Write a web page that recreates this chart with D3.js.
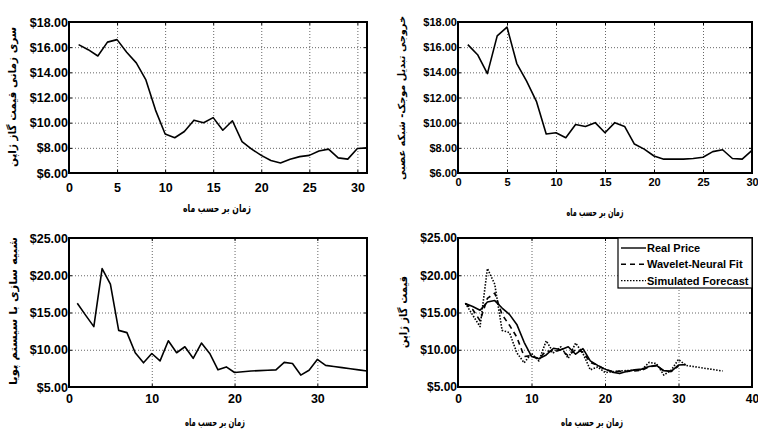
<!DOCTYPE html>
<html><head><meta charset="utf-8">
<script src="https://cdn.jsdelivr.net/npm/d3@7/dist/d3.min.js"></script>
<style>body{margin:0;background:#fff}svg{display:block}</style>
</head><body>
<svg id="chart" width="758" height="430"></svg>
<script>
// ---- data ----
const realPrice = [16.2, 15.8, 15.3, 16.4, 16.6, 15.6, 14.75, 13.4, 11.0, 9.1, 8.8, 9.3, 10.2, 10.0, 10.4, 9.4, 10.15, 8.5, 7.9, 7.4, 7.0, 6.8, 7.1, 7.3, 7.4, 7.75, 7.9, 7.2, 7.1, 7.95, 8.0];
const waveletFit = [16.2, 15.4, 13.9, 16.9, 17.6, 14.7, 13.3, 11.7, 9.1, 9.2, 8.8, 9.85, 9.7, 10.0, 9.2, 10.0, 9.7, 8.3, 7.9, 7.35, 7.1, 7.1, 7.1, 7.15, 7.25, 7.7, 7.85, 7.15, 7.1, 7.8];
const simulated = [16.25, 14.65, 13.1, 20.9, 18.8, 12.6, 12.3, 9.6, 8.25, 9.5, 8.5, 11.2, 9.6, 10.4, 8.85, 10.9, 9.5, 7.3, 7.7, 6.95, 7.05, 7.15, 7.2, 7.25, 7.3, 8.3, 8.15, 6.6, 7.25, 8.7, 7.9, 7.75, 7.6, 7.45, 7.3, 7.15];
const xTicksA = [0, 5, 10, 15, 20, 25, 30];
const xTicksB = [0, 10, 20, 30];
const xTicksC = [0, 10, 20, 30, 40];
const yTicksA = [6, 8, 10, 12, 14, 16, 18];
const yTicksB = [5, 10, 15, 20, 25];
const seriesNames = ["Real Price", "Wavelet-Neural Fit", "Simulated Forecast"];
const xLabel = "زمان بر حسب ماه";
const yLabels = ["سری زمانی قیمت گاز ژاپن", "خروجی تبدیل موجک- شبکه عصبی", "شبیه سازی با سیستم پویا", "قیمت گاز ژاپن"];

const svg = d3.select("#chart");
const fa = "'DejaVu Sans', sans-serif";
const en = "'Liberation Sans', Arial, sans-serif";

function panel(o) {
  const w = o.x1 - o.x0, h = o.y1 - o.y0;
  const g = svg.append("g").attr("transform", `translate(${o.x0},${o.y0})`);
  const x = d3.scaleLinear().domain(o.xd).range([0, w]);
  const y = d3.scaleLinear().domain(o.yd).range([h, 0]);
  // grid
  const grid = g.append("g").attr("class", "grid");
  grid.append("g").attr("transform", `translate(0,${h})`)
    .call(d3.axisBottom(x).tickValues(o.xt).tickSize(-h).tickFormat(""));
  grid.append("g").call(d3.axisLeft(y).tickValues(o.yt).tickSize(-w).tickFormat(""));
  grid.selectAll(".domain").remove();
  grid.selectAll("line").attr("stroke", "#666").attr("stroke-width", 1).attr("stroke-dasharray", "1,2");
  // lines
  o.series.forEach(s => {
    const line = d3.line().x((d, i) => x(i + 1)).y(d => y(d));
    g.append("path").datum(s.data).attr("d", line).attr("fill", "none")
      .attr("stroke", "#000").attr("stroke-width", 1.6)
      .attr("stroke-dasharray", s.dash || null).attr("stroke-linejoin", "round");
  });
  // axes
  const fs = o.fs;
  const ax = g.append("g").attr("transform", `translate(0,${h})`)
    .call(d3.axisBottom(x).tickValues(o.xt).tickSize(-3).tickPadding(o.xpad).tickFormat(d3.format("d")));
  const ay = g.append("g")
    .call(d3.axisLeft(y).tickValues(o.yt).tickSize(-3).tickPadding(1).tickFormat(d3.format("$.2f")));
  const at = g.append("g").call(d3.axisTop(x).tickValues(o.xt).tickSize(-3).tickFormat(""));
  const ar = g.append("g").attr("transform", `translate(${w},0)`)
    .call(d3.axisRight(y).tickValues(o.yt).tickSize(-3).tickFormat(""));
  [ax, ay, at, ar].forEach(a => {
    a.selectAll(".domain").remove();
    a.selectAll("line").attr("stroke", "#000");
    a.selectAll("text").attr("font-family", en).attr("font-weight", "bold")
      .attr("font-size", fs).attr("fill", "#000");
  });
  g.append("rect").attr("width", w).attr("height", h).attr("fill", "none")
    .attr("stroke", "#000").attr("stroke-width", 2);
  // labels
  svg.append("text").attr("x", o.xl[0]).attr("y", o.xl[1]).attr("text-anchor", "middle")
    .attr("dominant-baseline", "central").attr("font-family", fa).attr("font-weight", "bold")
    .attr("font-size", 11).attr("textLength", o.xl[2]).attr("lengthAdjust", "spacingAndGlyphs").text(xLabel);
  svg.append("text").attr("transform", `translate(${o.yl[0]},${o.yl[1]}) rotate(-90)`)
    .attr("text-anchor", "middle").attr("dominant-baseline", "central")
    .attr("font-family", fa).attr("font-weight", "bold").attr("font-size", o.yl[3])
    .attr("textLength", o.yl[2]).attr("lengthAdjust", "spacingAndGlyphs").text(o.ylab);
  return {g, x, y, w, h};
}

panel({x0: 69, x1: 367, y0: 22, y1: 173, xd: [0, 31], yd: [6, 18], xt: xTicksA, yt: yTicksA,
  fs: 12.5, xpad: 10, series: [{data: realPrice}], xl: [217, 208, 68], yl: [12, 97, 140, 11], ylab: yLabels[0]});
panel({x0: 458, x1: 752, y0: 22, y1: 173, xd: [0, 30], yd: [6, 18], xt: xTicksA, yt: yTicksA,
  fs: 11, xpad: 5, series: [{data: waveletFit}], xl: [595, 212, 57], yl: [401, 98, 164, 10], ylab: yLabels[1]});
panel({x0: 69, x1: 367, y0: 238, y1: 387, xd: [0, 36], yd: [5, 25], xt: xTicksB, yt: yTicksB,
  fs: 12.5, xpad: 7, series: [{data: simulated}], xl: [215, 422, 60], yl: [13, 311, 148, 11], ylab: yLabels[2]});
const p4 = panel({x0: 458, x1: 752, y0: 238, y1: 387, xd: [0, 40], yd: [5, 25], xt: xTicksC, yt: yTicksB,
  fs: 12, xpad: 7,
  series: [{data: realPrice}, {data: waveletFit, dash: "5,4"}, {data: simulated, dash: "1.5,1.5"}],
  xl: [592, 422, 62], yl: [403, 312, 72, 11], ylab: yLabels[3]});

// legend
const dashes = [null, "5,4", "1.5,1.5"];
const lg = p4.g.append("g").attr("transform", `translate(${p4.w - 134},0)`);
lg.append("rect").attr("width", 134).attr("height", 50).attr("fill", "#fff")
  .attr("stroke", "#000").attr("stroke-width", 1.2);
seriesNames.forEach((n, i) => {
  const yy = 10 + i * 16.3;
  lg.append("line").attr("x1", 3).attr("x2", 28).attr("y1", yy).attr("y2", yy)
    .attr("stroke", "#000").attr("stroke-width", 1.4).attr("stroke-dasharray", dashes[i]);
  lg.append("text").attr("x", 29).attr("y", yy).attr("dominant-baseline", "central")
    .attr("font-family", en).attr("font-weight", "bold").attr("font-size", 11).text(n);
});
</script>
</body></html>
